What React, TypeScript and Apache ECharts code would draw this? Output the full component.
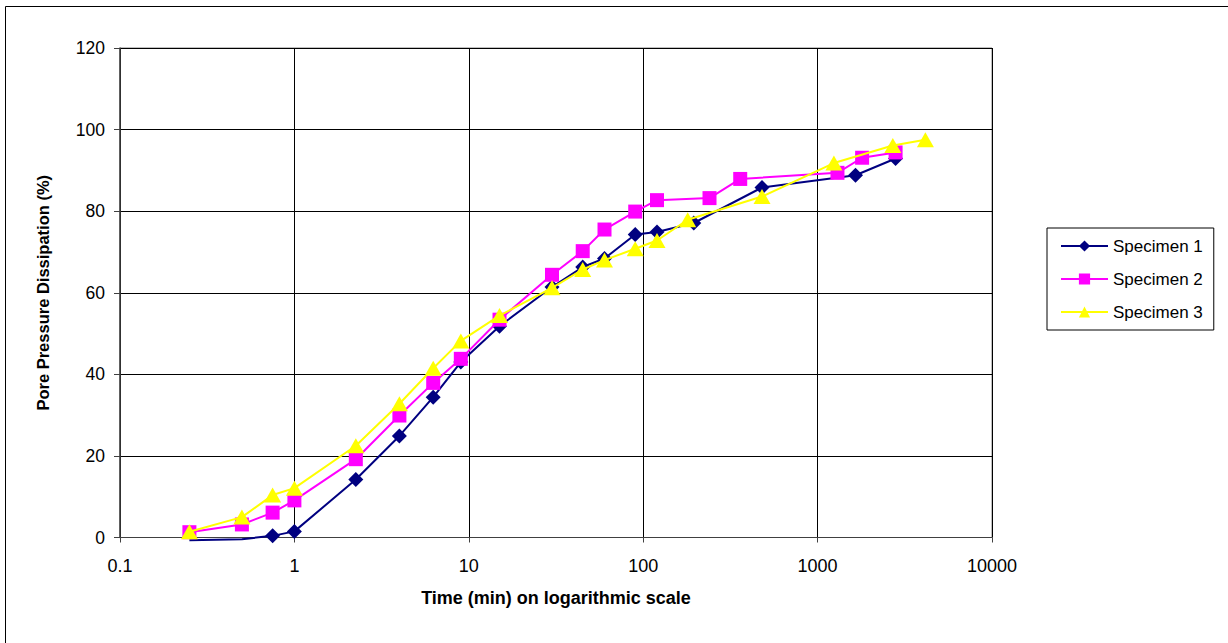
import React, { useEffect, useRef } from "react";
import * as echarts from "echarts";

const times1 = [0.25, 0.5, 0.75, 1, 2.25, 4, 6.25, 9, 15, 30, 45, 60, 90, 120, 195, 480, 1650, 2800];
const spec1 = [-0.7, -0.4, 0.4, 1.5, 14.2, 24.9, 34.4, 43, 51.8, 61.4, 66.3, 68.4, 74.3, 74.9, 77.1, 85.8, 88.8, 92.9];

const times2 = [0.25, 0.5, 0.75, 1, 2.25, 4, 6.25, 9, 15, 30, 45, 60, 90, 120, 240, 360, 1300, 1800, 2800];
const spec2 = [1.3, 3.2, 6.1, 9.1, 19.2, 29.9, 37.9, 43.8, 53.4, 64.4, 70.2, 75.5, 79.9, 82.7, 83.2, 87.9, 89.4, 93.1, 94.4];

const times3 = [0.25, 0.5, 0.75, 1, 2.25, 4, 6.25, 9, 15, 30, 45, 60, 90, 120, 180, 480, 1240, 2700, 4150];
const spec3 = [1.4, 5.0, 10.4, 12.1, 22.5, 32.8, 41.5, 48.2, 54.4, 61.2, 65.7, 68.0, 70.8, 72.8, 77.9, 83.6, 91.8, 96.1, 97.5];

const seriesNames = ["Specimen 1", "Specimen 2", "Specimen 3"];
const xTicks = [0.1, 1, 10, 100, 1000, 10000];
const yMin = 0;
const yMax = 120;
const yStep = 20;

const FONT = "Liberation Sans, Arial, sans-serif";

// Like Excel, markers that fall below the axis minimum are not drawn (the line still is).
function pairs(xs: number[], ys: number[]) {
  return xs.map((x, i) =>
    ys[i] < yMin ? { value: [x, ys[i]], symbol: "none" } : { value: [x, ys[i]] }
  );
}

export default function App() {
  const ref = useRef<HTMLDivElement>(null);
  useEffect(() => {
    if (!ref.current) return;
    const chart = echarts.init(ref.current, undefined, { renderer: "svg" });
    chart.setOption({
      animation: false,
      backgroundColor: "#ffffff",
      textStyle: { fontFamily: FONT },
      graphic: [
        {
          type: "rect",
          shape: { x: 5.5, y: 6.5, width: 1400, height: 800 },
          style: { fill: "none", stroke: "#000", lineWidth: 1 },
          silent: true,
        },
      ],
      grid: { left: 120, top: 48, right: 236, bottom: 105.5, containLabel: false, show: true, borderColor: "#808080", borderWidth: 1 },
      xAxis: {
        type: "log",
        logBase: 10,
        min: xTicks[0],
        max: xTicks[xTicks.length - 1],
        name: "Time (min) on logarithmic scale",
        nameLocation: "middle",
        nameGap: 51,
        nameTextStyle: { fontFamily: FONT, fontSize: 18, fontWeight: "bold", color: "#000" },
        axisLine: { show: true, onZero: false, lineStyle: { color: "#404040", width: 1 } },
        axisTick: { show: true, inside: false, length: 5, lineStyle: { color: "#404040" } },
        axisLabel: {
          fontFamily: FONT,
          fontSize: 18,
          color: "#000",
          margin: 19,
          formatter: (v: number) => String(xTicks.find((t) => Math.abs(Math.log10(t) - Math.log10(v)) < 1e-6) ?? v),
        },
        minorTick: { show: false },
        splitLine: { show: true, lineStyle: { color: "#000", width: 1 } },
      },
      yAxis: {
        type: "value",
        min: yMin,
        max: yMax,
        interval: yStep,
        name: "Pore Pressure Dissipation (%)",
        nameLocation: "middle",
        nameGap: 69,
        nameTextStyle: { fontFamily: FONT, fontSize: 16.5, fontWeight: "bold", color: "#000" },
        axisLine: { show: true, lineStyle: { color: "#404040", width: 1.5 } },
        axisTick: { show: true, inside: false, length: 6, lineStyle: { color: "#404040" } },
        axisLabel: { fontFamily: FONT, fontSize: 17.5, color: "#000", margin: 15 },
        splitLine: { show: true, lineStyle: { color: "#000", width: 1 } },
      },
      legend: {
        orient: "vertical",
        left: 1047,
        top: 228,
        padding: [9, 11, 9, 13],
        itemGap: 15,
        itemWidth: 47,
        itemHeight: 14,
        borderColor: "#000",
        borderWidth: 1,
        backgroundColor: "#fff",
        textStyle: { fontFamily: FONT, fontSize: 17, color: "#000", lineHeight: 18 },
        data: seriesNames,
      },
      series: [
        {
          name: seriesNames[0],
          type: "line",
          z: 2,
          data: pairs(times1, spec1),
          symbol: "diamond",
          symbolSize: 15,
          lineStyle: { color: "#000080", width: 2 },
          itemStyle: { color: "#000080" },
          clip: false,
        },
        {
          name: seriesNames[1],
          type: "line",
          z: 3,
          data: pairs(times2, spec2),
          symbol: "rect",
          symbolSize: 14,
          lineStyle: { color: "#FF00FF", width: 2 },
          itemStyle: { color: "#FF00FF" },
          clip: false,
        },
        {
          name: seriesNames[2],
          type: "line",
          z: 4,
          data: pairs(times3, spec3),
          symbol: "triangle",
          symbolSize: [17, 15],
          lineStyle: { color: "#FFFF00", width: 2 },
          itemStyle: { color: "#FFFF00" },
          clip: false,
        },
      ],
    });
    return () => chart.dispose();
  }, []);
  return <div ref={ref} style={{ position: "fixed", left: 0, top: 0, width: 1228, height: 643 }} />;
}
